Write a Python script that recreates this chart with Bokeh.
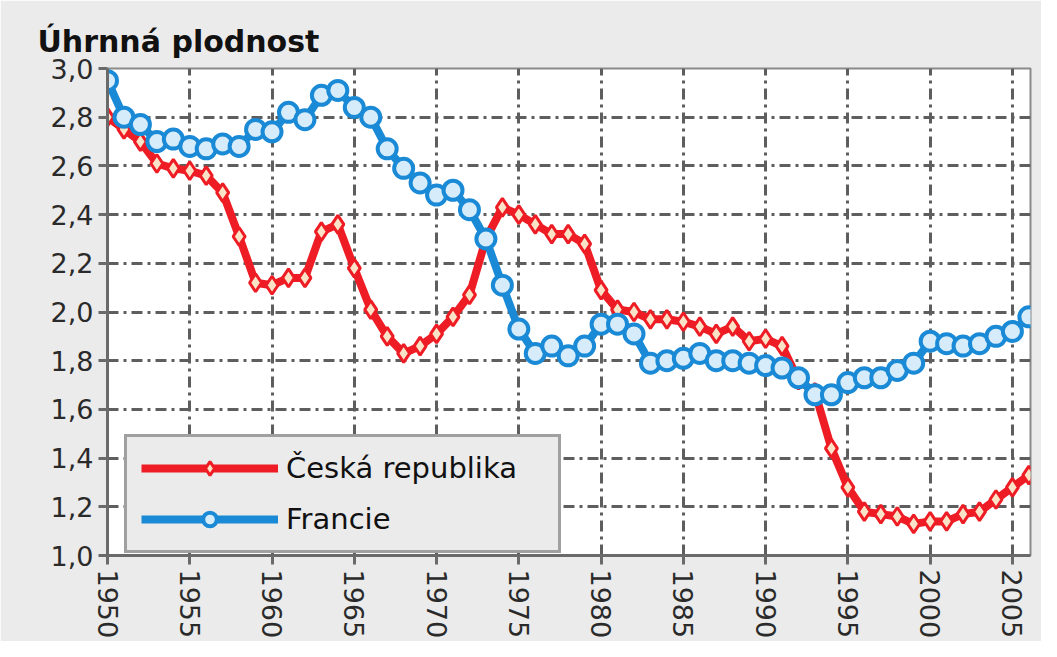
from bokeh.plotting import figure
from bokeh.models import ColumnDataSource, Legend, LegendItem, CustomJSTickFormatter, FixedTicker, Range1d
from bokeh.embed import file_html
from bokeh.resources import INLINE

years = list(range(1950, 2007))
czech = [2.80, 2.75, 2.70, 2.61, 2.59, 2.58, 2.56, 2.49, 2.31, 2.12,
         2.11, 2.14, 2.14, 2.33, 2.36, 2.18, 2.01, 1.90, 1.83, 1.86,
         1.91, 1.98, 2.07, 2.30, 2.43, 2.40, 2.36, 2.32, 2.32, 2.28,
         2.09, 2.01, 2.00, 1.97, 1.97, 1.96, 1.94, 1.91, 1.94, 1.88,
         1.89, 1.86, 1.72, 1.67, 1.44, 1.28, 1.18, 1.17, 1.16, 1.13,
         1.14, 1.14, 1.17, 1.18, 1.23, 1.28, 1.33]
france = [2.95, 2.80, 2.77, 2.70, 2.71, 2.68, 2.67, 2.69, 2.68, 2.75,
          2.74, 2.82, 2.79, 2.89, 2.91, 2.84, 2.80, 2.67, 2.59, 2.53,
          2.48, 2.50, 2.42, 2.30, 2.11, 1.93, 1.83, 1.86, 1.82, 1.86,
          1.95, 1.95, 1.91, 1.79, 1.80, 1.81, 1.83, 1.80, 1.80, 1.79,
          1.78, 1.77, 1.73, 1.66, 1.66, 1.71, 1.73, 1.73, 1.76, 1.79,
          1.88, 1.87, 1.86, 1.87, 1.90, 1.92, 1.98]
x_ticks = list(range(1950, 2006, 5))
y_ticks = [1.0, 1.2, 1.4, 1.6, 1.8, 2.0, 2.2, 2.4, 2.6, 2.8, 3.0]
series_names = ["Česká republika", "Francie"]
title_text = "Úhrnná plodnost"

src = ColumnDataSource(dict(year=years, cz=czech, fr=france))

p = figure(width=1041, height=641, output_backend="svg", toolbar_location=None,
           x_range=Range1d(1950, 2006.1), y_range=Range1d(1.0, 3.0),
           min_border_left=107, min_border_right=11, min_border_top=68, min_border_bottom=84)
p.border_fill_color = "#ebebeb"
p.background_fill_color = "white"
p.outline_line_color = "#8a8a8a"
p.outline_line_width = 2

p.title.text = title_text
p.title.text_font = "DejaVu Sans"
p.title.text_font_size = "30px"
p.title.text_font_style = "bold"
p.title.text_color = "#111111"
p.title.align = "left"
p.title.offset = -70
p.title.standoff = 19

grid_color = "#5e5e5e"
for g in (p.xgrid, p.ygrid):
    g.grid_line_color = grid_color
    g.grid_line_width = 3
    g.grid_line_dash = "11 5 3 5"
p.xgrid.ticker = FixedTicker(ticks=x_ticks)
p.ygrid.ticker = FixedTicker(ticks=y_ticks)

p.xaxis.ticker = FixedTicker(ticks=x_ticks)
p.yaxis.ticker = FixedTicker(ticks=y_ticks)
p.yaxis.formatter = CustomJSTickFormatter(code="return tick.toFixed(1).replace('.', ',');")
p.xaxis.major_label_orientation = "vertical"
for ax in (p.xaxis, p.yaxis):
    ax.axis_line_color = "#6a6a6a"
    ax.axis_line_width = 3
    ax.major_tick_line_color = "#6a6a6a"
    ax.major_tick_line_width = 3
    ax.major_tick_out = 9
    ax.major_tick_in = 0
    ax.minor_tick_line_color = None
    ax.major_label_text_font = "DejaVu Sans"
    ax.major_label_text_font_size = "27px"
    ax.major_label_text_color = "#2a2a2a"
p.yaxis.major_label_standoff = 5
p.xaxis.major_label_standoff = 5

red = "#ee1c24"
blue = "#1a8ad6"
l1 = p.line("year", "cz", source=src, line_color=red, line_width=8)
m1 = p.scatter("year", "cz", source=src, marker="diamond", size=18,
               line_color=red, line_width=3, fill_color="#fbe3c8")
l2 = p.line("year", "fr", source=src, line_color=blue, line_width=8)
m2 = p.scatter("year", "fr", source=src, marker="circle", size=19,
               line_color=blue, line_width=4, fill_color="#d6ecfa")

legend = Legend(items=[LegendItem(label=series_names[0], renderers=[l1, m1]),
                       LegendItem(label=series_names[1], renderers=[l2, m2])],
                location=(17, 2))
legend.background_fill_color = "#ebebeb"
legend.background_fill_alpha = 1
legend.border_line_color = "#555555"
legend.border_line_width = 3
legend.label_text_font = "DejaVu Sans"
legend.label_text_font_size = "29px"
legend.label_text_color = "#111111"
legend.glyph_width = 137
legend.glyph_height = 34
legend.label_height = 34
legend.label_width = 258
legend.spacing = 17
legend.padding = 14
legend.margin = 0
legend.label_standoff = 8
p.add_layout(legend, "center")

open("out.html", "w").write(file_html(p, INLINE))
